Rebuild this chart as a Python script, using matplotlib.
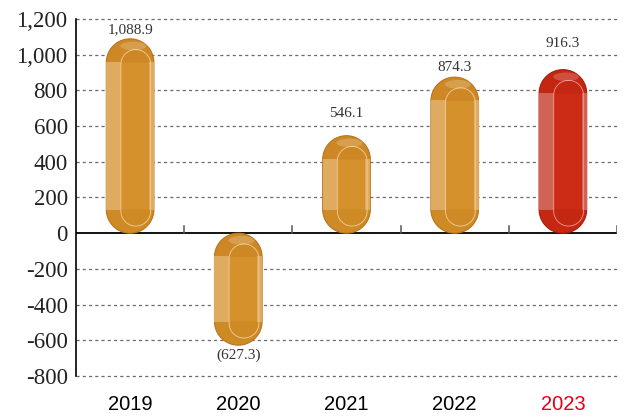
import matplotlib
matplotlib.use("Agg")
import matplotlib.pyplot as plt
from matplotlib.patches import PathPatch, Rectangle, Ellipse
from matplotlib.path import Path
import numpy as np

years = ["2019", "2020", "2021", "2022", "2023"]
values = [1088.9, -627.3, 546.1, 874.3, 916.3]
value_labels = ["1,088.9", "(627.3)", "546.1", "874.3", "916.3"]
yticks = [-800, -600, -400, -200, 0, 200, 400, 600, 800, 1000, 1200]
ytick_labels = ["-800", "-600", "-400", "-200", "0", "200", "400", "600", "800", "1,000", "1,200"]
label_offsets_px = [9, 10, 22, 10, 26]
highlight = [False, False, False, False, True]

W, H = 626, 417
fig = plt.figure(figsize=(W / 100, H / 100), dpi=100)
ax = fig.add_axes([76 / W, 1 - 376 / H, (617 - 76) / W, (376 - 19) / H])
ax.set_xlim(-0.5, 4.5)
ax.set_ylim(-800, 1200)

px_x = (617 - 76) / 5.0
px_y = (376 - 19) / 2000.0
aspect = px_x / px_y


def capsule(x0, x1, y0, y1, ry):
    r = (x1 - x0) / 2
    ry = min(ry, (y1 - y0) / 2)
    cx = (x0 + x1) / 2
    cy_b, cy_t = y0 + ry, y1 - ry
    pts = []
    for a in np.linspace(-np.pi / 2, 0, 20):
        pts.append((cx + r * np.cos(a), cy_b + ry * np.sin(a)))
    for a in np.linspace(0, np.pi, 40):
        pts.append((cx + r * np.cos(a), cy_t + ry * np.sin(a)))
    for a in np.linspace(np.pi, 1.5 * np.pi, 20):
        pts.append((cx + r * np.cos(a), cy_b + ry * np.sin(a)))
    pts.append(pts[0])
    return Path(pts, closed=True)


def half_cap(x0, x1, ybase, ry, up=True):
    r = (x1 - x0) / 2
    cx = (x0 + x1) / 2
    s = 1 if up else -1
    pts = [(cx + r * np.cos(a), ybase + s * ry * np.sin(a)) for a in np.linspace(0, np.pi, 40)]
    pts.append(pts[0])
    return Path(pts, closed=True)


orange = dict(main="#D4912C", edge="#B8741C", strip="#DFAE66", line="#F3CF95", cap="#C07A18")
red = dict(main="#CC2B15", edge="#A81E0C", strip="#D2675C", line="#EE9A8C", cap="#B41E0C")

for t in yticks:
    if t != 0:
        ax.axhline(t, color="#6b6b6b", lw=0.9, ls=(0, (2.5, 2.5)), zorder=1, clip_on=False)

xs = np.arange(len(values))
hw = 0.22
for i, (x, v) in enumerate(zip(xs, values)):
    c = red if highlight[i] else orange
    lo, hi = min(0, v), max(0, v)
    ry = hw * aspect
    ax.add_patch(PathPatch(capsule(x - hw, x + hw, lo, hi, ry), fc=c["main"], ec=c["edge"],
                           lw=0.8, zorder=3))
    # darker caps
    ax.add_patch(PathPatch(half_cap(x - hw, x + hw, hi - ry, ry, True),
                           fc=c["cap"], ec="none", alpha=0.35, zorder=3.5))
    ax.add_patch(PathPatch(half_cap(x - hw, x + hw, lo + ry, ry, False),
                           fc=c["cap"], ec="none", alpha=0.3, zorder=3.5))
    # side strips
    ax.add_patch(Rectangle((x - hw, lo + ry * 0.97), 0.135, (hi - lo) - 2 * ry * 0.97,
                           fc=c["strip"], ec="none", alpha=0.92, zorder=4))
    ax.add_patch(Rectangle((x + hw - 0.045, lo + ry * 0.97), 0.045, (hi - lo) - 2 * ry * 0.97,
                           fc=c["strip"], ec="none", alpha=0.92, zorder=4))
    # inner outline
    ir = (2 * hw - 0.165) / 2
    ax.add_patch(PathPatch(capsule(x - hw + 0.135, x + hw - 0.03, lo + 0.3 * ry, hi - 0.45 * ry, ir * aspect),
                           fc="none", ec=c["line"], lw=0.6, zorder=5))
    # top highlight
    ax.add_patch(Ellipse((x + 0.03, hi - 0.3 * ry), 0.24, 0.36 * ry, fc="white", ec="none",
                         alpha=0.2, zorder=6))
    off = label_offsets_px[i] * 0.72
    sign = 1 if v >= 0 else -1
    ax.annotate(value_labels[i], (x, v), xytext=(0, sign * off), textcoords="offset points",
                ha="center", va="center", fontsize=11, family="Liberation Serif", color="#333333")

ax.axhline(0, color="black", lw=1.3, zorder=2)
for b in xs + 0.5:
    ax.plot([b, b], [0, 7 / px_y], color="#555555", lw=1.1, zorder=2)

for s in ["top", "right", "bottom"]:
    ax.spines[s].set_visible(False)
ax.spines["left"].set_linewidth(1.2)
ax.spines["left"].set_color("black")

ax.set_yticks(yticks)
ax.set_yticklabels(ytick_labels, family="Liberation Serif", fontsize=16.5, color="#222222")
ax.tick_params(axis="y", length=0, pad=6)
ax.set_xticks(xs)
ax.set_xticklabels(years, family="Liberation Sans", fontsize=14.5)
ax.tick_params(axis="x", length=0, pad=14)
for lbl, h in zip(ax.get_xticklabels(), highlight):
    lbl.set_color("#E2001A" if h else "black")

fig.savefig("out.png", dpi=100)
